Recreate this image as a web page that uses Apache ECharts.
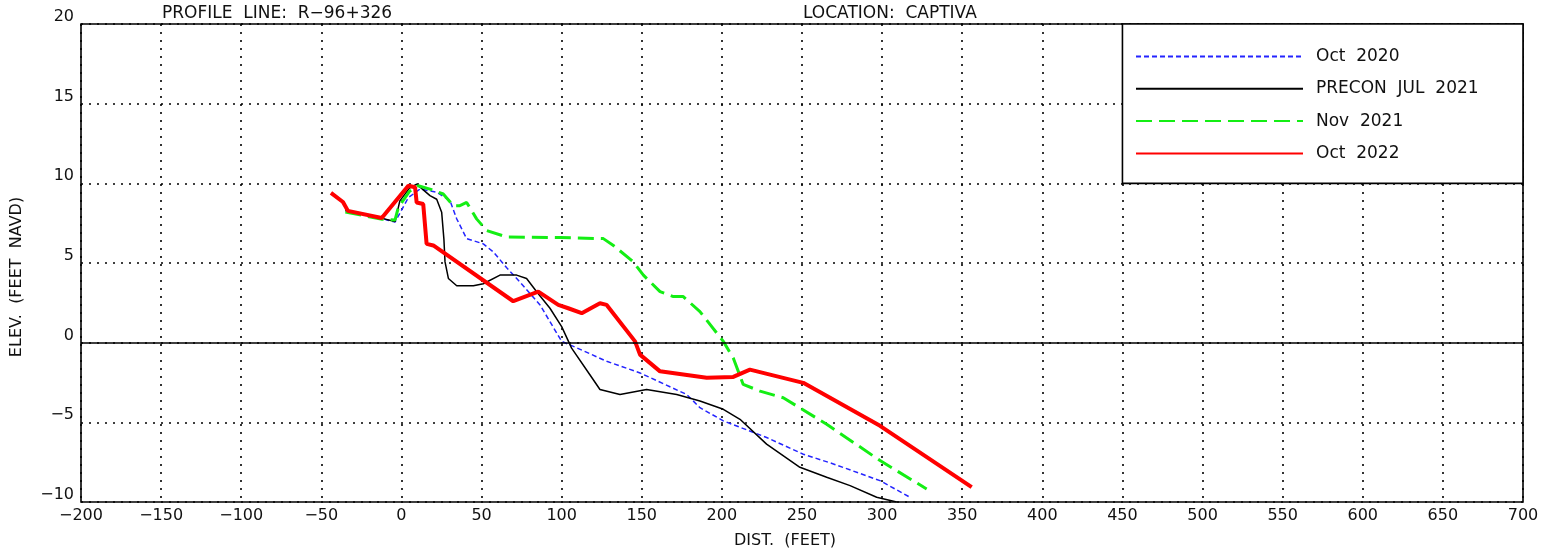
<!DOCTYPE html>
<html>
<head>
<meta charset="utf-8">
<script src="https://cdn.jsdelivr.net/npm/echarts@6/dist/echarts.min.js"></script>
<style>
html,body{margin:0;padding:0;background:#fff;}
#chart{width:1542px;height:554px;}
</style>
</head>
<body>
<div id="chart"></div>
<script>
// ---- data ----
const seriesNames = ['Oct  2020', 'PRECON  JUL  2021', 'Nov  2021', 'Oct  2022'];
const titleLeft = 'PROFILE  LINE:  R\u221296+326';
const titleRight = 'LOCATION:  CAPTIVA';
const xName = 'DIST.  (FEET)';
const yName = 'ELEV.  (FEET  NAVD)';
const xAxisRange = [-200, 700, 50];
const yAxisRange = [-10, 20, 5];
const legendBoxCorners = [[450, 20], [700, 10]];

const oct2020 = [
  [-35, 8.3], [-12, 7.8], [-9, 7.7], [-4, 7.57], [4.3, 9.1], [11.6, 9.64], [22, 9.44],
  [30.3, 8.92], [34.5, 7.77], [40.7, 6.53], [51.1, 6.2], [57.3, 5.7], [65.7, 4.7],
  [74, 3.8], [86.5, 2.37], [100, 0.08], [107.3, -0.23], [128.1, -1.17], [148.9, -1.9],
  [178, -3.25], [186.3, -4.08], [200.9, -4.91], [227.9, -5.95], [250.8, -7.0],
  [269.6, -7.61], [298.7, -8.66], [317.4, -9.7]
];
const precon2021 = [
  [-35, 8.3], [-12, 7.8], [-4, 7.6], [-1, 8.9], [5, 9.7], [9.5, 9.95], [17.8, 9.23],
  [22, 9.0], [25.1, 8.19], [26.5, 6.5], [27.2, 5.07], [29.3, 4.03], [34.5, 3.57],
  [44.9, 3.57], [51.1, 3.7], [61.5, 4.24], [71.9, 4.24], [78.1, 4.03], [84.4, 3.2],
  [92.7, 2.16], [100, 1.01], [106.2, -0.34], [117.5, -2.0], [123.9, -2.94],
  [136.4, -3.25], [153, -2.94], [171.8, -3.25], [186.3, -3.66], [200.9, -4.18],
  [211.3, -4.81], [227.9, -6.37], [248.7, -7.82], [265.4, -8.45], [280, -8.97],
  [296.6, -9.7], [309.1, -10.0]
];
const nov2021 = [
  [-35, 8.2], [-12, 7.75], [-4, 7.7], [-1.9, 8.5], [5, 9.5], [10.5, 9.85], [17.8, 9.64],
  [26.1, 9.33], [32.3, 8.6], [36.5, 8.6], [40.7, 8.8], [46.9, 7.77], [53.2, 7.04],
  [65.7, 6.63], [99, 6.6], [126, 6.53], [132.3, 6.1], [144.7, 5.07], [151, 4.24],
  [161.4, 3.2], [169.7, 2.89], [175.9, 2.89], [186.3, 1.95], [200.9, 0.08],
  [207.1, -0.96], [213.3, -2.62], [223.8, -3.04], [238.3, -3.46], [265.4, -5.12],
  [298.7, -7.4], [327.8, -9.18]
];
const oct2022 = [
  [-44, 9.4], [-36.5, 8.83], [-33.4, 8.27], [-12.3, 7.82], [4.3, 9.85], [8.5, 9.75],
  [9.5, 8.8], [13.6, 8.7], [15.7, 6.2], [19.9, 6.1], [69.8, 2.6], [85.4, 3.2],
  [97.9, 2.37], [104.1, 2.16], [112.5, 1.85], [123.9, 2.47], [128.1, 2.37],
  [145.8, 0.08], [148.9, -0.75], [161.4, -1.8], [190.5, -2.2], [207.1, -2.15],
  [217.5, -1.69], [250.8, -2.52], [298.7, -5.22], [355.9, -9.07]
];

// ---- chart ----
const FONT = 'DejaVu Sans';
const TXT = '#111';
const minus = v => String(v).replace('-', '\u2212');

const chart = echarts.init(document.getElementById('chart'), null, {renderer: 'canvas'});
const dotted = {color: '#000', width: 1.6, type: [2, 6]};

chart.setOption({
  animation: false,
  backgroundColor: '#fff',
  title: [
    {text: titleLeft, left: 162, top: 5, padding: 0,
     textStyle: {fontFamily: FONT, fontSize: 17, fontWeight: 'normal', color: TXT}},
    {text: titleRight, left: 803, top: 5, padding: 0,
     textStyle: {fontFamily: FONT, fontSize: 17, fontWeight: 'normal', color: TXT}}
  ],
  grid: {left: 81, right: 19, top: 24, bottom: 49, show: true,
         borderColor: '#000', borderWidth: 1.6, backgroundColor: 'transparent'},
  legend: {
    orient: 'vertical', left: 1135, top: 48, padding: 0,
    itemWidth: 167, itemHeight: 14, itemGap: 15.3,
    data: seriesNames,
    itemStyle: {opacity: 0},
    textStyle: {fontFamily: FONT, fontSize: 17, color: TXT, lineHeight: 14, padding: [0, 0, 0, 8]},
    z: 10
  },
  xAxis: {
    type: 'value', min: xAxisRange[0], max: xAxisRange[1], interval: xAxisRange[2],
    name: xName, nameLocation: 'middle', nameGap: 31,
    nameTextStyle: {fontFamily: FONT, fontSize: 16, color: TXT, padding: [0, 34, 0, 0]},
    axisLine: {show: false}, axisTick: {show: false},
    axisLabel: {fontFamily: FONT, fontSize: 16, color: TXT, margin: 6, formatter: minus},
    splitLine: {show: true, lineStyle: dotted}
  },
  yAxis: {
    type: 'value', min: yAxisRange[0], max: yAxisRange[1], interval: yAxisRange[2],
    name: yName, nameLocation: 'middle', nameGap: 56, nameRotate: 90,
    nameTextStyle: {fontFamily: FONT, fontSize: 16, color: TXT, padding: [0, 28, 0, 0]},
    axisLine: {show: false}, axisTick: {show: false},
    axisLabel: {fontFamily: FONT, fontSize: 16, color: TXT, margin: 7,
                verticalAlign: 'bottom', lineHeight: 14, formatter: minus},
    splitLine: {show: true, lineStyle: dotted}
  },
  series: [
    {name: seriesNames[0], type: 'line', data: oct2020, symbol: 'none', silent: true,
     itemStyle: {color: '#2424ff'},
     lineStyle: {color: '#2424ff', width: 1.5, type: [5, 3]}},
    {name: seriesNames[1], type: 'line', data: precon2021, symbol: 'none', silent: true,
     itemStyle: {color: '#000'},
     lineStyle: {color: '#000', width: 1.5},
     markLine: {silent: true, symbol: 'none', label: {show: false},
                lineStyle: {color: '#000', type: 'solid', width: 1.5},
                data: [{yAxis: 0}]}},
    {name: seriesNames[2], type: 'line', data: nov2021, symbol: 'none', silent: true,
     itemStyle: {color: '#14ee14'},
     lineStyle: {color: '#14ee14', width: 3, type: [16, 7]}},
    {name: seriesNames[3], type: 'line', data: oct2022, symbol: 'none', silent: true,
     itemStyle: {color: '#ff0000'},
     lineStyle: {color: '#ff0000', width: 4}}
  ]
});

// legend box (white, bordered) from axis coordinates
const p1 = chart.convertToPixel({gridIndex: 0}, legendBoxCorners[0]);
const p2 = chart.convertToPixel({gridIndex: 0}, legendBoxCorners[1]);
chart.setOption({
  graphic: [{
    type: 'rect', z: 5, silent: true,
    shape: {x: p1[0], y: p1[1], width: p2[0] - p1[0], height: p2[1] - p1[1]},
    style: {fill: '#fff', stroke: '#000', lineWidth: 1.6}
  }]
});
</script>
</body>
</html>
